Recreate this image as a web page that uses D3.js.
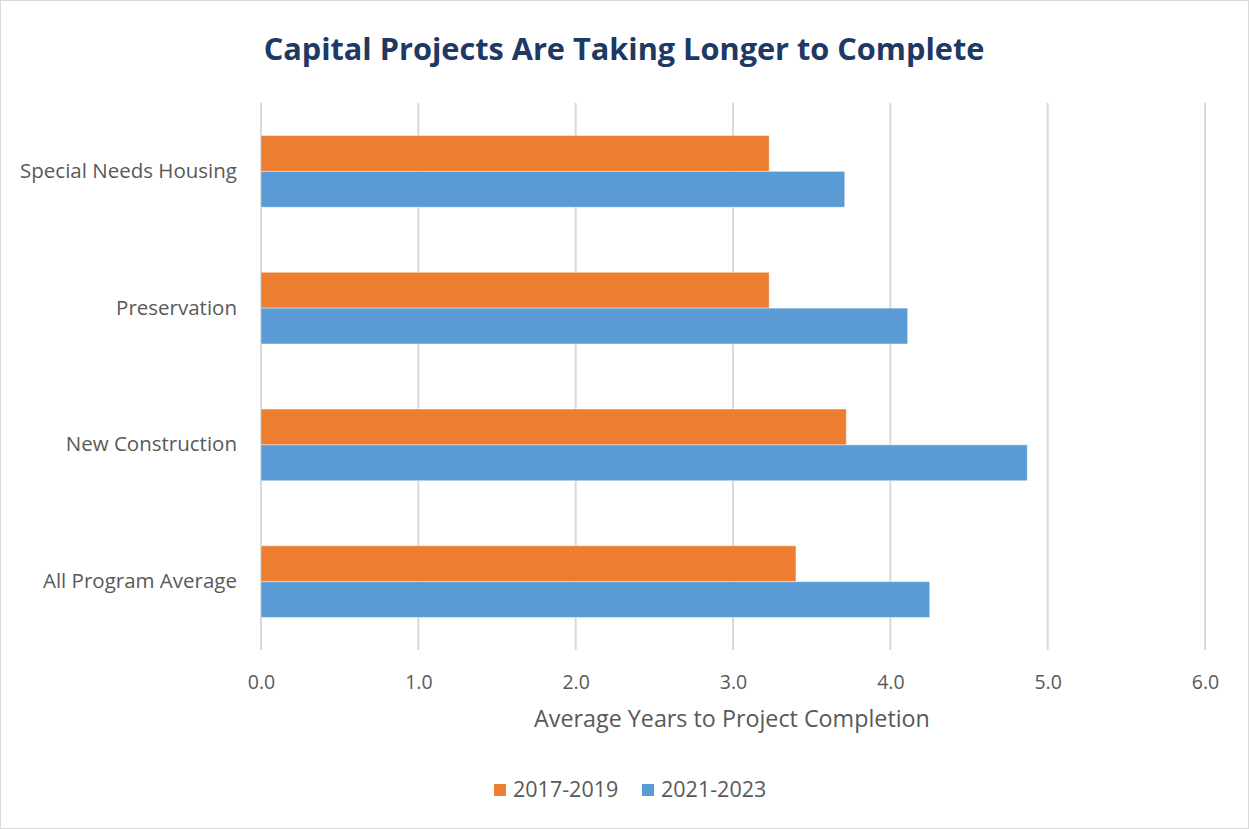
<!DOCTYPE html>
<html>
<head>
<meta charset="utf-8">
<script src="https://d3js.org/d3.v7.min.js"></script>
<style>
    body { margin: 0; background: #fff; }
    text { font-family: "Open Sans", "Noto Sans", sans-serif; }
</style>
</head>
<body>
<div id="chart"></div>
<script>

    // data
    var categories = ["Special Needs Housing", "Preservation", "New Construction", "All Program Average"];
    var seriesNames = ["2017-2019", "2021-2023"];
    var values2017 = [3.23, 3.23, 3.72, 3.40];
    var values2021 = [3.71, 4.11, 4.87, 4.25];
    var xTicks = [0, 1, 2, 3, 4, 5, 6];
    var colors = ["#ED7D31", "#5B9BD5"];

    var W = 1249, H = 829;
    var margin = { top: 103, right: 44, bottom: 180, left: 261 },
        width = 1205 - margin.left,
        height = 650 - margin.top;

    var svg = d3.select("#chart")
        .append("svg")
        .attr("width", W)
        .attr("height", H);

    // outer chart border
    svg.append("rect")
        .attr("x", 0.5).attr("y", 0.5)
        .attr("width", W - 1).attr("height", H - 1)
        .attr("fill", "#fff")
        .attr("stroke", "#D9D9D9");

    svg.append("text")
        .attr("x", 624)
        .attr("y", 60)
        .attr("text-anchor", "middle")
        .style("font-size", "30.7px")
        .style("font-weight", "bold")
        .style("fill", "#203864")
        .text("Capital Projects Are Taking Longer to Complete");

    var g = svg.append("g")
        .attr("transform", "translate(" + margin.left + "," + margin.top + ")");

    var x = d3.scaleLinear().domain([0, 6]).range([0, width]);
    var y = d3.scaleBand().domain(categories).range([0, height]).paddingInner(0.476).paddingOuter(0.238);
    var ySub = d3.scaleBand().domain(seriesNames).range([0, y.bandwidth()]);

    // gridlines
    g.selectAll(".grid")
        .data(xTicks)
        .enter()
        .append("line")
        .attr("x1", function (d) { return x(d) })
        .attr("x2", function (d) { return x(d) })
        .attr("y1", 0)
        .attr("y2", height)
        .attr("stroke", "#D9D9D9")
        .attr("stroke-width", 2);

    // bars
    var rows = categories.map(function (c, i) {
        return { cat: c, vals: [values2017[i], values2021[i]] };
    });
    var grp = g.selectAll(".cat")
        .data(rows)
        .enter()
        .append("g")
        .attr("transform", function (d) { return "translate(0," + y(d.cat) + ")" });
    grp.selectAll("rect")
        .data(function (d) { return d.vals.map(function (v, j) { return { s: seriesNames[j], v: v, c: colors[j] } }) })
        .enter()
        .append("rect")
        .attr("x", x(0))
        .attr("y", function (d) { return ySub(d.s) })
        .attr("width", function (d) { return x(d.v) - x(0) })
        .attr("height", ySub.bandwidth())
        .attr("fill", function (d) { return d.c })
        .attr("stroke", "#fff")
        .attr("stroke-opacity", 0.4)
        .attr("stroke-width", 1);

    // x axis labels
    var xAxis = g.append("g")
        .attr("transform", "translate(0," + height + ")")
        .call(d3.axisBottom(x).tickValues(xTicks).tickFormat(d3.format(".1f")).tickSize(0).tickPadding(25));
    xAxis.select(".domain").remove();
    xAxis.selectAll("text")
        .style("font-size", "19.5px")
        .style("fill", "#595959")
        .style("font-family", "'Open Sans', sans-serif");

    // y axis labels
    var yAxis = g.append("g")
        .call(d3.axisLeft(y).tickSize(0).tickPadding(24));
    yAxis.select(".domain").remove();
    yAxis.selectAll("text")
        .style("font-size", "20.5px")
        .style("fill", "#595959")
        .style("font-family", "'Open Sans', sans-serif");

    svg.append("text")
        .attr("x", 732)
        .attr("y", 727)
        .attr("text-anchor", "middle")
        .style("font-size", "23.3px")
        .style("fill", "#595959")
        .text("Average Years to Project Completion");

    // legend
    var legendX = [494, 642];
    var legend = svg.selectAll(".leg")
        .data(seriesNames)
        .enter()
        .append("g")
        .attr("transform", function (d, i) { return "translate(" + legendX[i] + ",784)" });
    legend.append("rect")
        .attr("width", 12).attr("height", 12)
        .attr("fill", function (d, i) { return colors[i] });
    legend.append("text")
        .attr("x", 19)
        .attr("y", 13)
        .style("font-size", "21.5px")
        .style("fill", "#595959")
        .text(function (d) { return d });

</script>
</body>
</html>
